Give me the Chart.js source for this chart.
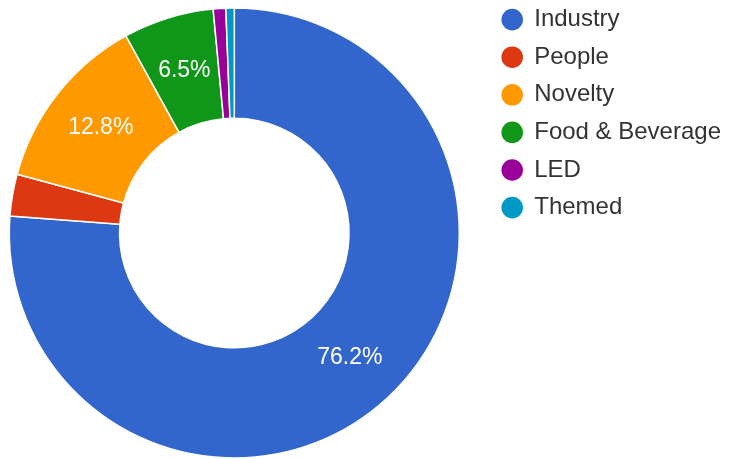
<!DOCTYPE html>
<html>
<head>
<meta charset="utf-8">
<script src="https://cdn.jsdelivr.net/npm/chart.js@4/dist/chart.umd.min.js"></script>
<style>
    html, body { margin: 0; padding: 0; background: #fff; overflow: hidden; }
    #frame { position: relative; width: 729px; height: 459px; overflow: hidden; }
    /* canvas is a bit larger than the frame so the ring can run close to the edges */
    #wrap { position: absolute; left: -20px; top: -20px; width: 769px; height: 499px; }
</style>
</head>
<body>
<div id="frame"><div id="wrap"><canvas id="categoryChart"></canvas></div></div>
<script>
// share of products per category (percent)
const categories = ['Industry', 'People', 'Novelty', 'Food & Beverage', 'LED', 'Themed'];
const shares = [76.2, 3.0, 12.8, 6.5, 0.9, 0.6];
const sliceColors = ['#3366cc', '#dc3912', '#ff9900', '#109618', '#990099', '#0099c6'];

const FONT = '"Liberation Sans", Arial, sans-serif';

// write the percentage inside the slices that are big enough
const sliceLabels = {
    id: 'sliceLabels',
    afterDatasetsDraw(chart) {
        const ctx = chart.ctx;
        const data = chart.data.datasets[0].data;
        const total = data.reduce((a, b) => a + b, 0);
        ctx.save();
        ctx.font = '23px ' + FONT;
        ctx.fillStyle = '#ffffff';
        ctx.textAlign = 'center';
        ctx.textBaseline = 'middle';
        chart.getDatasetMeta(0).data.forEach((arc, i) => {
            const pct = data[i] / total * 100;
            if (pct < 5) return;
            const pos = arc.tooltipPosition();
            ctx.fillText(pct.toFixed(1) + '%', pos.x, pos.y);
        });
        ctx.restore();
    }
};

document.addEventListener('DOMContentLoaded', () => {
    const ctx = document.getElementById('categoryChart').getContext('2d');

    new Chart(ctx, {
        type: 'doughnut',
        data: {
            labels: categories,
            datasets: [{
                data: shares,
                backgroundColor: sliceColors,
                borderColor: '#ffffff',
                borderWidth: 1.5,
                radius: 225,
                cutout: '51%'
            }]
        },
        options: {
            responsive: true,
            maintainAspectRatio: false,
            animation: false,
            layout: {
                padding: { left: 0, right: 18, top: 14, bottom: 7 }
            },
            plugins: {
                tooltip: { enabled: false },
                legend: {
                    display: true,
                    position: 'right',
                    align: 'start',
                    labels: {
                        usePointStyle: true,
                        pointStyle: 'circle',
                        boxWidth: 20,
                        boxHeight: 16.3,
                        padding: 13.6,
                        color: '#333333',
                        font: { family: FONT, size: 24 }
                    }
                }
            }
        },
        plugins: [sliceLabels]
    });
});
</script>
</body>
</html>
